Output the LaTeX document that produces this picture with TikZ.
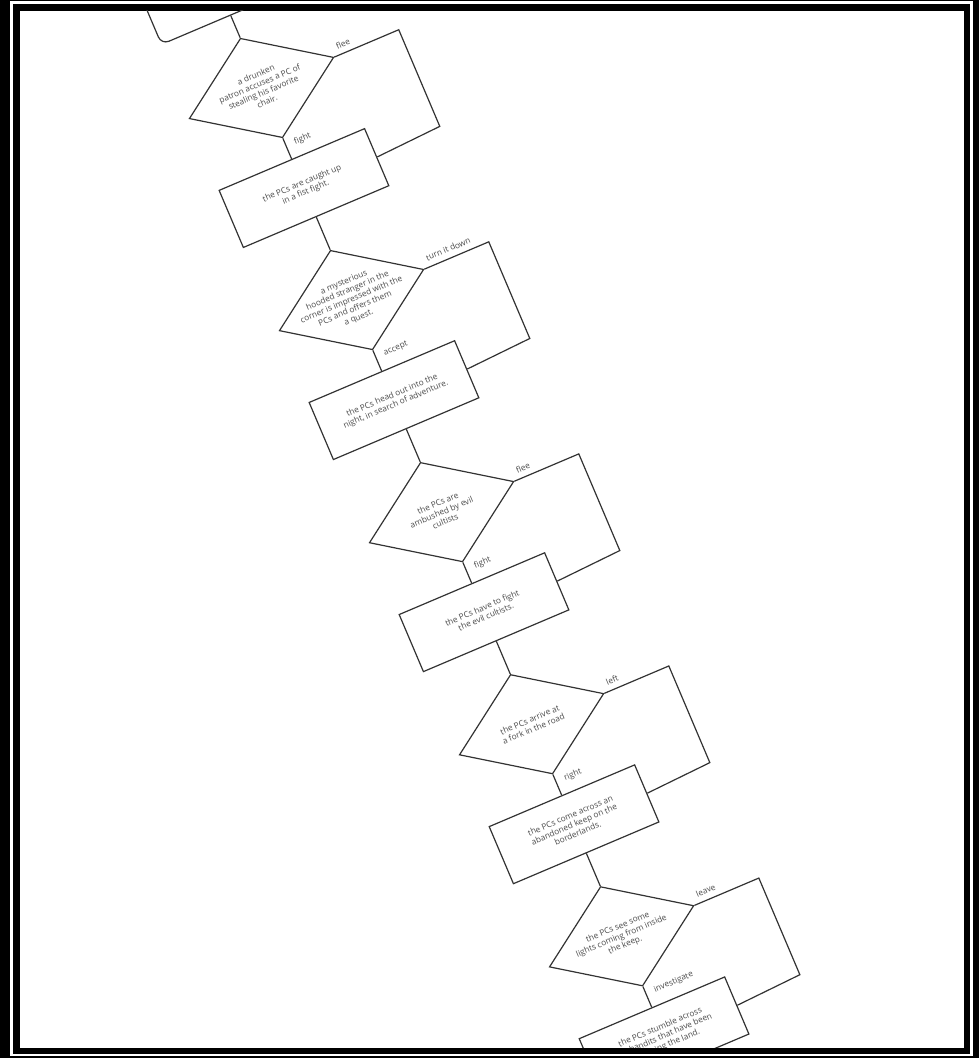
\documentclass[tikz,border=0pt]{standalone}
\usepackage{fontspec}
\setmainfont{Open Sans}
\usetikzlibrary{positioning, shapes.geometric}

\begin{document}
\begin{tikzpicture}[x=1pt, y=1pt,
  line/.style={draw=black!80, line width=1.2pt},
  txt/.style={font=\fontsize{8.3}{9.6}\selectfont, text=black!70, align=center},
  decision/.style={diamond, line, minimum width=157pt, minimum height=108pt, inner sep=0pt},
  event/.style={rectangle, line, txt, minimum width=158pt, minimum height=62pt, inner sep=2pt},
  startbox/.style={event, rounded corners=8pt, minimum width=150pt},
  lbl/.style={txt, inner sep=2.5pt},
  yes/.style={lbl, pos=0, anchor=south west, xshift=3pt, yshift=3pt},
  no/.style={lbl, pos=0, anchor=north west, xshift=6pt, yshift=-1pt}]
  % page frame
  \useasboundingbox (0,0) rectangle (979,1058);
  \fill[black] (0,0) rectangle (979,1058);
  \draw[white, line width=2.5pt] (11.5,3) rectangle (971.5,1055.5);
  \fill[white] (20,10) rectangle (964,1047);
  \begin{scope}
  \clip (20,10) rectangle (964,1047);
  \begin{scope}[shift={(261.5,970)}, rotate=23, transform shape]
  \node[decision, label={[txt]center:a drunken\\patron accuses a PC of\\stealing his favorite\\chair.}] (d1) at (0,0) {};
  \node[startbox, above=24pt of d1] (s) {the PCs are drinking\\in a tavern.};
  \node[event, below=22.5pt of d1] (r1) {the PCs are caught up\\in a fist fight.};
  \node[decision, below=35.5pt of r1, label={[txt]center:a mysterious\\hooded stranger in the\\corner is impressed with the\\PCs and offers them\\a quest.}] (d2) {};
  \node[event, below=22.5pt of d2] (r2) {the PCs head out into the\\night, in search of adventure.};
  \node[decision, below=35.5pt of r2, label={[txt]center:the PCs are\\ambushed by evil\\cultists}] (d3) {};
  \node[event, below=22.5pt of d3] (r3) {the PCs have to fight\\the evil cultists.};
  \node[decision, below=35.5pt of r3, label={[txt]center:the PCs arrive at\\a fork in the road}] (d4) {};
  \node[event, below=22.5pt of d4] (r4) {the PCs come across an\\abandoned keep on the\\borderlands.};
  \node[decision, below=35.5pt of r4, label={[txt]center:the PCs see some\\lights coming from inside\\the keep.}] (d5) {};
  \node[event, below=22.5pt of d5] (r5) {the PCs stumble across\\the bandits that have been\\ravaging the land.};
  % connectors
  \draw[line] (s.south) -- (d1.north);
  \draw[line] (d1.south) -- node[no] {fight} (r1.north);
  \draw[line] (d1.east) -- node[yes] {flee} ++(70,0) -- ++(0,-105) -- (r1.east);
  \draw[line] (r1.south) -- (d2.north);
  \draw[line] (d2.south) -- node[no] {accept} (r2.north);
  \draw[line] (d2.east) -- node[yes] {turn it down} ++(70,0) -- ++(0,-105) -- (r2.east);
  \draw[line] (r2.south) -- (d3.north);
  \draw[line] (d3.south) -- node[no] {fight} (r3.north);
  \draw[line] (d3.east) -- node[yes] {flee} ++(70,0) -- ++(0,-105) -- (r3.east);
  \draw[line] (r3.south) -- (d4.north);
  \draw[line] (d4.south) -- node[no] {right} (r4.north);
  \draw[line] (d4.east) -- node[yes] {left} ++(70,0) -- ++(0,-105) -- (r4.east);
  \draw[line] (r4.south) -- (d5.north);
  \draw[line] (d5.south) -- node[no] {investigate} (r5.north);
  \draw[line] (d5.east) -- node[yes] {leave} ++(70,0) -- ++(0,-105) -- (r5.east);
  \end{scope}
  \end{scope}
\end{tikzpicture}
\end{document}
